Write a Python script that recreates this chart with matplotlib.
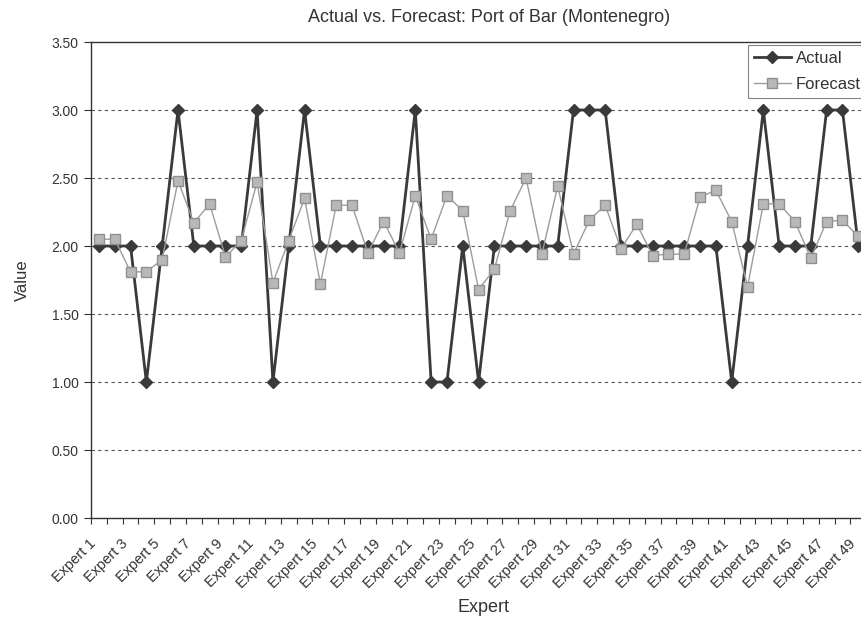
import matplotlib
matplotlib.use("Agg")
import matplotlib.pyplot as plt
from matplotlib.ticker import FixedLocator, FormatStrFormatter
from matplotlib.transforms import ScaledTranslation

plt.rcParams['font.family'] = ['Liberation Sans', 'DejaVu Sans']

experts = [f"Expert {i}" for i in range(1, 50)]
actual = [2, 2, 2, 1, 2, 3, 2, 2, 2, 2, 3, 1,
          2, 3, 2, 2, 2, 2, 2, 2, 3, 1, 1, 2,
          1, 2, 2, 2, 2, 2, 3, 3, 3, 2, 2, 2,
          2, 2, 2, 2, 1, 2, 3, 2, 2, 2, 3, 3, 2]
forecast = [2.05, 2.05, 1.81, 1.81, 1.90, 2.48, 2.17, 2.31, 1.92, 2.04, 2.47, 1.73,
            2.04, 2.35, 1.72, 2.30, 2.30, 1.95, 2.18, 1.95, 2.37, 2.05, 2.37, 2.26,
            1.68, 1.83, 2.26, 2.50, 1.94, 2.44, 1.94, 2.19, 2.30, 1.98, 2.16, 1.93,
            1.94, 1.94, 2.36, 2.41, 2.18, 1.70, 2.31, 2.31, 2.18, 1.91, 2.18, 2.19, 2.07]
y_ticks = [0, 0.5, 1.0, 1.5, 2.0, 2.5, 3.0, 3.5]

txt = '#333333'
pos = list(range(1, len(experts) + 1))

fig = plt.figure(figsize=(8.61, 6.21), dpi=100)
# plot area runs a little past the right edge (50 category slots)
ax = fig.add_axes([91 / 861, 103 / 621, 791 / 861, 476 / 621])

# dashed horizontal gridlines
for v in y_ticks[1:-1]:
    ax.axhline(v, color='#555555', lw=0.8, ls=(0, (3, 3)), zorder=1)

ax.plot(pos, actual, color='#3a3a3a', lw=2, marker='D', ms=6.5,
        mfc='#3a3a3a', mec='#3a3a3a', label='Actual', zorder=3)
ax.plot(pos, forecast, color='#9c9c9c', lw=1, marker='s', ms=7.5,
        mfc='#b8b8b8', mec='#909090', mew=1, label='Forecast', zorder=4)

ax.set_xlim(0.5, 50.5)
ax.set_ylim(0, 3.5)

ax.yaxis.set_major_locator(FixedLocator(y_ticks))
ax.yaxis.set_major_formatter(FormatStrFormatter('%.2f'))
ax.tick_params(axis='y', direction='out', length=5, width=0.8, colors='#333333',
               labelsize=10, pad=4)

ax.set_xticks(pos[::2])
ax.set_xticklabels(experts[::2], rotation=45, ha='right', va='center',
                   rotation_mode='anchor', fontsize=10.5, color=txt)
ax.tick_params(axis='x', which='major', length=0, pad=17)
shift = ScaledTranslation(-5 / 100, 0, fig.dpi_scale_trans)
for lbl in ax.get_xticklabels():
    lbl.set_transform(lbl.get_transform() + shift)
ax.set_xticks([p + 0.5 for p in range(0, 50)], minor=True)
ax.tick_params(axis='x', which='minor', direction='out', length=4, width=0.8,
               color='#333333')

for side in ['left', 'bottom', 'top']:
    ax.spines[side].set_color('#333333')
    ax.spines[side].set_linewidth(1)
ax.spines['right'].set_visible(False)

leg = ax.legend(loc='upper left', bbox_to_anchor=(748 / 861, 1 - 45 / 621),
                bbox_transform=fig.transFigure, frameon=True, fancybox=False,
                fontsize=12, handlelength=2.2, handletextpad=0.3,
                borderpad=0.35, labelspacing=0.65, borderaxespad=0)
leg.get_frame().set_edgecolor('#666666')
leg.get_frame().set_linewidth(0.8)
for t in leg.get_texts():
    t.set_color(txt)

fig.text(489 / 861, 1 - 17 / 621, 'Actual vs. Forecast: Port of Bar (Montenegro)',
         ha='center', va='center', fontsize=13, color=txt)
fig.text(22 / 861, 1 - 280 / 621, 'Value', rotation=90, ha='center', va='center',
         fontsize=12, color=txt)
fig.text(483 / 861, 1 - 607 / 621, 'Expert', ha='center', va='center',
         fontsize=13, color=txt)

fig.savefig('out.png', dpi=100)
